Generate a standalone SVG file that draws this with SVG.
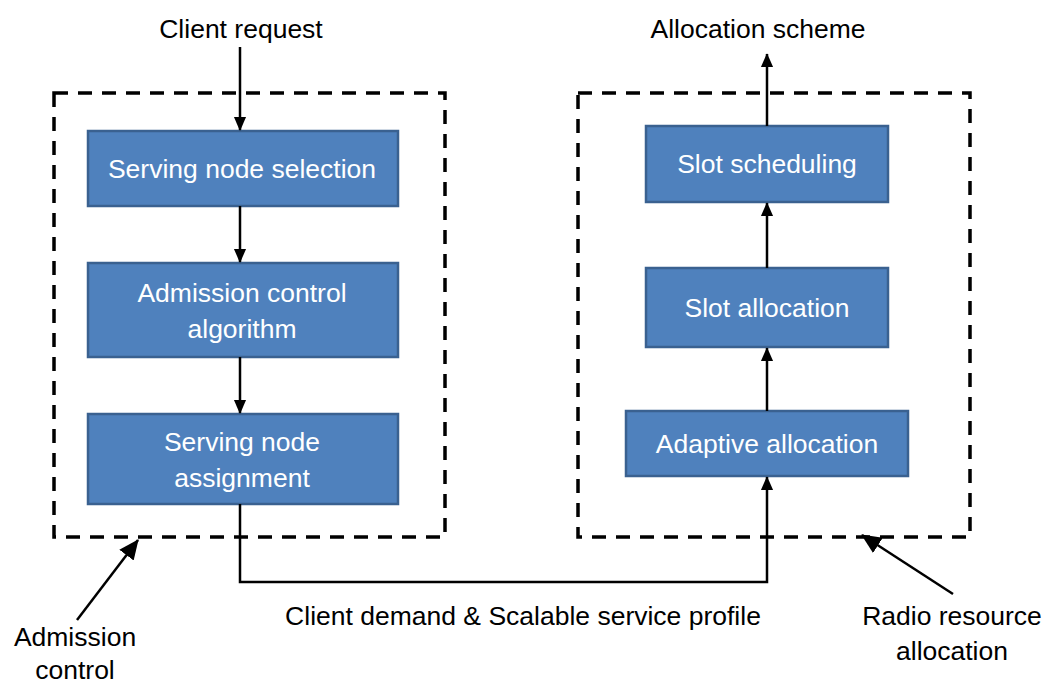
<svg xmlns="http://www.w3.org/2000/svg" width="1047" height="686" viewBox="0 0 1047 686">
<defs>
<marker id="ah" markerWidth="14" markerHeight="16" refX="15" refY="7" orient="auto" markerUnits="userSpaceOnUse" viewBox="0 0 16 14"><path d="M0,0 L16,7 L0,14 z" fill="#000"/></marker>
<marker id="ah2" markerWidth="20" markerHeight="20" refX="19" refY="9" orient="auto" markerUnits="userSpaceOnUse" viewBox="0 0 20 18"><path d="M0,0 L20,9 L0,18 z" fill="#000"/></marker>
<style>
.node{fill:#4F81BD;stroke:#3A6190;stroke-width:2.5}
.nt{font-family:"Liberation Sans",Arial,sans-serif;font-size:26.5px;fill:#fff;text-anchor:middle}
.lb{font-family:"Liberation Sans",Arial,sans-serif;font-size:26.5px;fill:#000;text-anchor:middle}
.dash{fill:none;stroke:#000;stroke-width:3.5;stroke-dasharray:14,10}
.ln{fill:none;stroke:#000;stroke-width:2.5}
</style>
</defs>
<rect width="1047" height="686" fill="#fff"/>
<g id="group-admission">
<rect class="dash" x="54" y="93" width="391" height="444"/>
</g>
<g id="group-radio">
<rect class="dash" x="578" y="93" width="392" height="444"/>
</g>
<g id="n-select"><rect class="node" x="88" y="131" width="310" height="75"/><text class="nt" x="242" y="178">Serving node selection</text></g>
<g id="n-admission"><rect class="node" x="88" y="263" width="310" height="94"/><text class="nt" x="242" y="302">Admission control</text><text class="nt" x="242" y="338">algorithm</text></g>
<g id="n-assign"><rect class="node" x="88" y="414" width="310" height="90"/><text class="nt" x="242" y="451">Serving node</text><text class="nt" x="242" y="487">assignment</text></g>
<g id="n-sched"><rect class="node" x="646" y="126" width="242" height="76"/><text class="nt" x="767" y="173">Slot scheduling</text></g>
<g id="n-slotalloc"><rect class="node" x="646" y="268" width="242" height="79"/><text class="nt" x="767" y="317">Slot allocation</text></g>
<g id="n-adaptive"><rect class="node" x="626" y="411" width="282" height="65"/><text class="nt" x="767" y="453">Adaptive allocation</text></g>
<g id="connectors">
<path class="ln" d="M240,47 V130" marker-end="url(#ah)"/>
<path class="ln" d="M240,206 V262" marker-end="url(#ah)"/>
<path class="ln" d="M240,357 V413" marker-end="url(#ah)"/>
<path class="ln" d="M240,504 V582 H767 V477" marker-end="url(#ah)"/>
<path class="ln" d="M767,411 V348" marker-end="url(#ah)"/>
<path class="ln" d="M767,268 V203" marker-end="url(#ah)"/>
<path class="ln" d="M767,126 V54" marker-end="url(#ah)"/>
<path class="ln" d="M77,620 L138,540" stroke-width="3" marker-end="url(#ah2)"/>
<path class="ln" d="M953,594 L862,535" stroke-width="3" marker-end="url(#ah2)"/>
</g>
<g id="labels">
<text class="lb" x="241" y="38">Client request</text>
<text class="lb" x="758" y="38">Allocation scheme</text>
<text class="lb" x="523" y="625">Client demand &amp; Scalable service profile</text>
<text class="lb" x="75" y="646">Admission</text>
<text class="lb" x="75" y="679">control</text>
<text class="lb" x="952" y="625">Radio resource</text>
<text class="lb" x="952" y="660">allocation</text>
</g>
</svg>
